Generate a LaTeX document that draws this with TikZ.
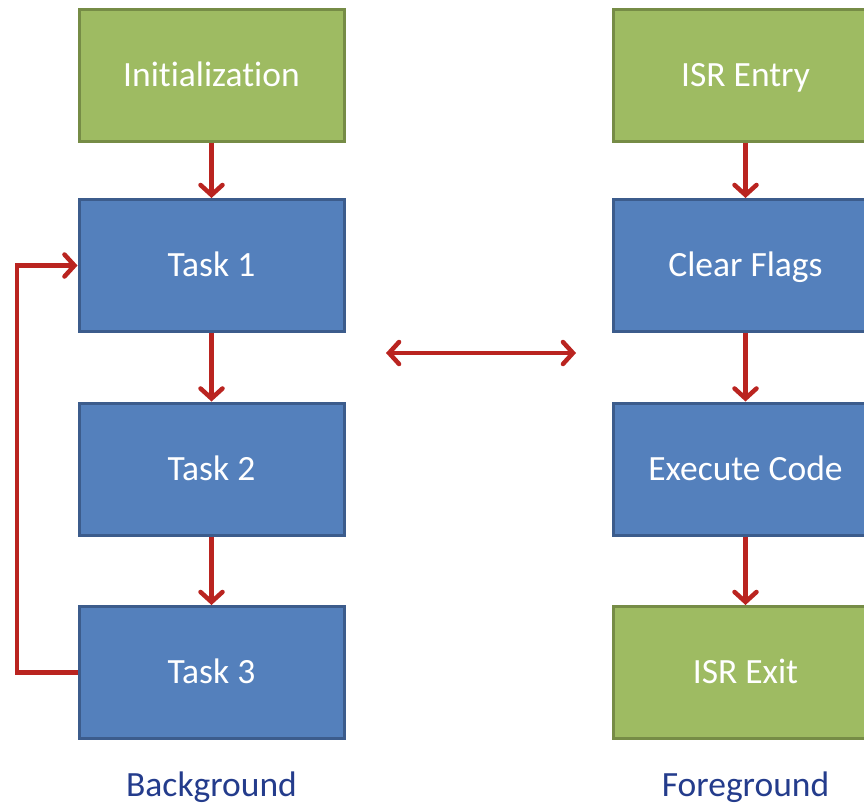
\documentclass[tikz,border=0pt]{standalone}
\usepackage{fontspec}
\setmainfont{Carlito}[Ligatures=NoCommon]
\usetikzlibrary{arrows.meta}
\definecolor{gfill}{RGB}{158,187,98}
\definecolor{gdraw}{RGB}{118,140,70}
\definecolor{bfill}{RGB}{84,128,188}
\definecolor{bdraw}{RGB}{60,92,140}
\definecolor{ared}{RGB}{186,36,32}
\definecolor{lblue}{RGB}{36,60,140}
\tikzset{
  box/.style={rectangle, minimum width=265pt, minimum height=132pt, line width=3pt, text=white, font=\fontsize{35.5}{40}\selectfont, inner sep=0pt, text height=29pt, text depth=7pt},
  gbox/.style={box, fill=gfill, draw=gdraw},
  bbox/.style={box, fill=bfill, draw=bdraw},
  tip/.tip={Straight Barb[length=10pt,width=22pt,line cap=round,line width=4.5pt]},
  conn/.style={draw=ared, line width=4.5pt, line join=miter, -tip},
  lbl/.style={text=lblue, font=\fontsize{35.5}{40}\selectfont}
}
\begin{document}
\begin{tikzpicture}[x=1pt,y=-1pt]
\useasboundingbox (0,0) rectangle (864,806);
\node[gbox] (init) at (211.5,75) {Initialization};
\node[bbox] (t1) at (211.5,265.5) {Task 1};
\node[bbox] (t2) at (211.5,469) {Task 2};
\node[bbox] (t3) at (211.5,672.5) {Task 3};
\node[gbox] (isre) at (745.5,75) {ISR Entry};
\node[bbox] (cf) at (745.5,265.5) {Clear Flags};
\node[bbox] (ec) at (745.5,469) {Execute Code};
\node[gbox] (isrx) at (745.5,672.5) {ISR Exit};
\node[lbl] (bg) at (211.5,787) {Background};
\node[lbl] (fg) at (745.5,787) {Foreground};
\coordinate (dl) at (386,353);
\coordinate (dr) at (576,353);
\draw[conn] (init) -- (t1);
\draw[conn] (t1) -- (t2);
\draw[conn] (t2) -- (t3);
\draw[conn] (isre) -- (cf);
\draw[conn] (cf) -- (ec);
\draw[conn] (ec) -- (isrx);
\draw[conn] (t3.west) -- (17,672.5) |- (t1.west);
\draw[conn, tip-tip] (dl) -- (dr);
\end{tikzpicture}
\end{document}
